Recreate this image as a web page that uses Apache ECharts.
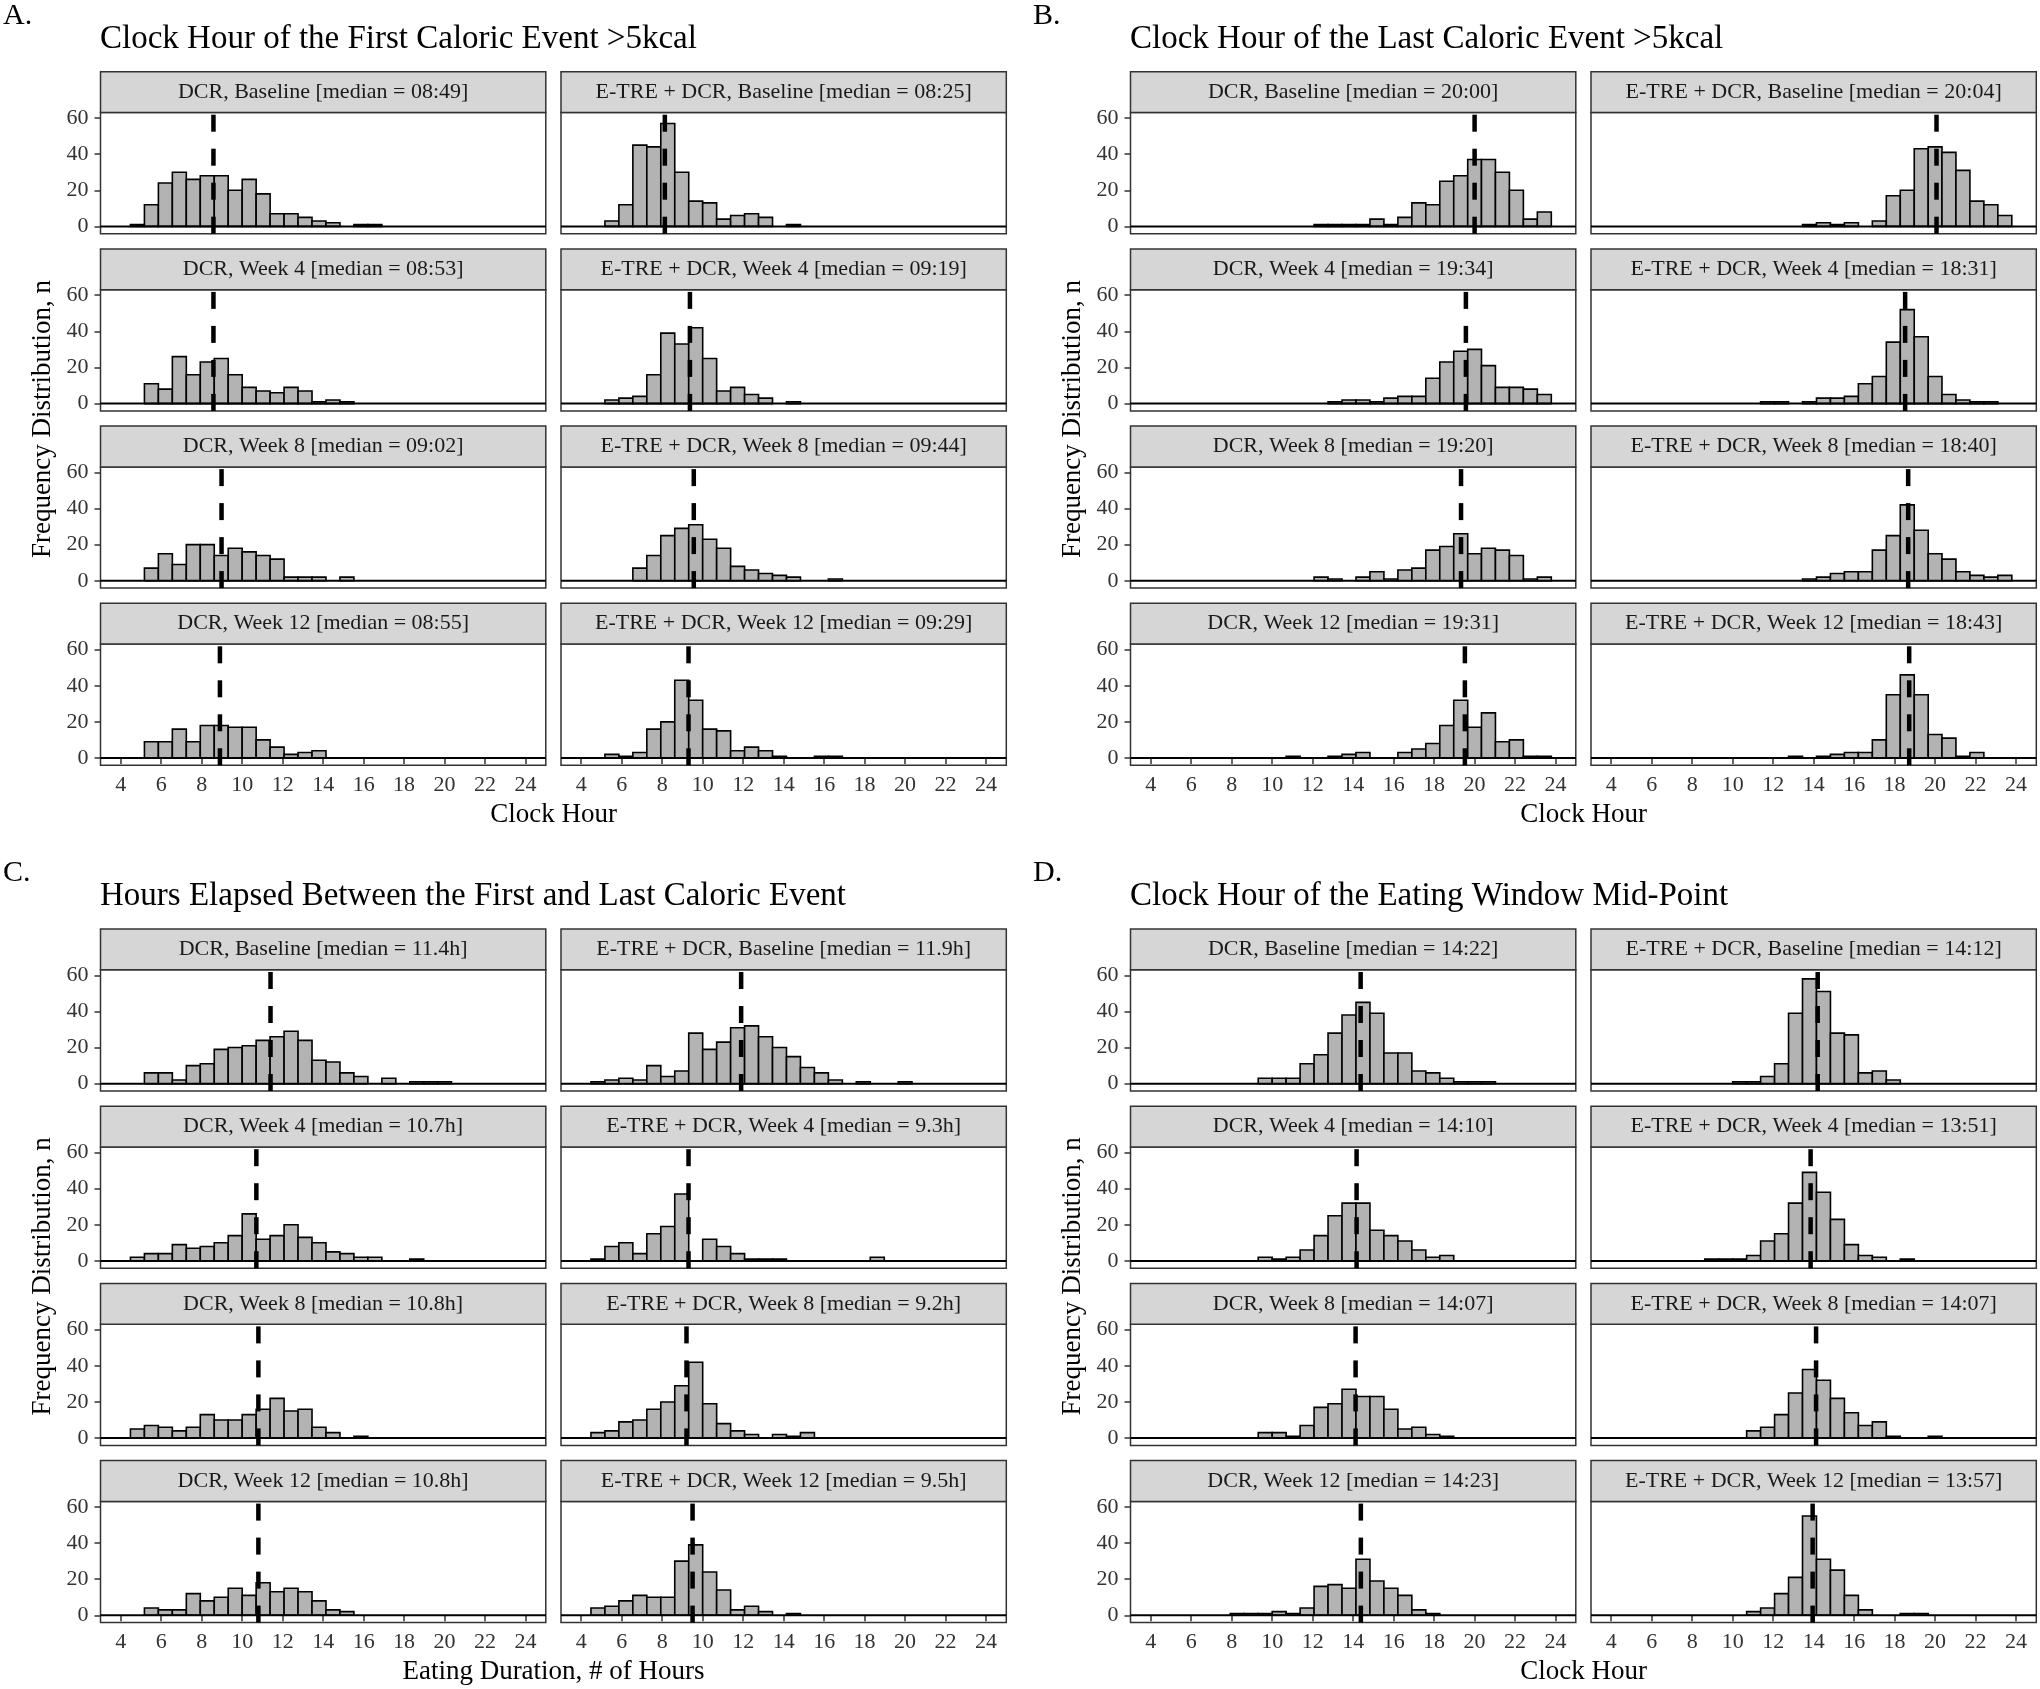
<!DOCTYPE html>
<html><head><meta charset="utf-8">
<script src="https://cdn.jsdelivr.net/npm/echarts@6/dist/echarts.min.js"></script>
<style>html,body{margin:0;padding:0;background:#fff}#c{width:2040px;height:1689px}</style>
</head><body><div id="c"></div>
<script>
// ---------- shared scales ----------
const binEdges = [3.79, 4.48, 5.17, 5.86, 6.55, 7.24, 7.93, 8.62, 9.31, 10.00, 10.69, 11.38, 12.07, 12.76, 13.45, 14.14, 14.83, 15.52, 16.21, 16.90, 17.59, 18.28, 18.97, 19.66, 20.34, 21.03, 21.72, 22.41, 23.10, 23.79, 24.48];
const xTicks = [4, 6, 8, 10, 12, 14, 16, 18, 20, 22, 24];
const yTicks = [0, 20, 40, 60];
const timepoints = ['Baseline', 'Week 4', 'Week 8', 'Week 12'];
const groups = ['DCR', 'E-TRE + DCR'];
const yTitle = 'Frequency Distribution, n';

// ---------- Panel A ----------
const titleA = 'Clock Hour of the First Caloric Event >5kcal';
const xTitleA = 'Clock Hour';
const medTextA_DCR = ['08:49', '08:53', '09:02', '08:55'];
const medTextA_ETRE = ['08:25', '09:19', '09:44', '09:29'];
const medPosA_DCR = [8.58, 8.58, 8.98, 8.90];
const medPosA_ETRE = [8.13, 9.37, 9.56, 9.30];
const A_DCR_BL  = [0,1,12,24,30,26,28,28,20,26,18,7,7,5,3,2,0,1,1,0,0,0,0,0,0,0,0,0,0,0];
const A_DCR_W4  = [0,0,11,8,26,16,23,25,16,9,7,6,9,7,1,2,1,0,0,0,0,0,0,0,0,0,0,0,0,0];
const A_DCR_W8  = [0,0,7,15,9,20,20,14,18,16,14,12,2,2,2,0,2,0,0,0,0,0,0,0,0,0,0,0,0,0];
const A_DCR_W12 = [0,0,9,9,16,9,18,18,17,17,10,6,2,3,4,0,0,0,0,0,0,0,0,0,0,0,0,0,0,0];
const A_ETRE_BL  = [0,0,3,12,45,44,57,30,14,13,4,6,7,5,0,1,0,0,0,0,0,0,0,0,0,0,0,0,0,0];
const A_ETRE_W4  = [0,0,2,3,4,16,39,33,42,25,7,9,5,3,0,1,0,0,0,0,0,0,0,0,0,0,0,0,0,0];
const A_ETRE_W8  = [0,0,0,0,7,14,25,29,31,23,18,8,6,4,3,2,0,0,1,0,0,0,0,0,0,0,0,0,0,0];
const A_ETRE_W12 = [0,0,2,1,3,16,20,43,32,16,15,4,6,4,1,0,0,1,1,0,0,0,0,0,0,0,0,0,0,0];

// ---------- Panel B ----------
const titleB = 'Clock Hour of the Last Caloric Event >5kcal';
const xTitleB = 'Clock Hour';
const medTextB_DCR = ['20:00', '19:34', '19:20', '19:31'];
const medTextB_ETRE = ['20:04', '18:31', '18:40', '18:43'];
const medPosB_DCR = [20.00, 19.57, 19.33, 19.52];
const medPosB_ETRE = [20.07, 18.52, 18.67, 18.72];
const B_DCR_BL  = [0,0,0,0,0,0,0,0,0,0,0,0,1,1,1,1,4,1,5,13,12,25,28,37,37,30,20,4,8,0];
const B_DCR_W4  = [0,0,0,0,0,0,0,0,0,0,0,0,0,1,2,2,1,3,4,4,14,23,29,30,21,9,9,8,5,0];
const B_DCR_W8  = [0,0,0,0,0,0,0,0,0,0,0,0,2,1,0,2,5,1,6,7,17,19,26,15,18,17,14,1,2,0];
const B_DCR_W12 = [0,0,0,0,0,0,0,0,0,0,1,0,0,1,2,3,0,0,3,5,8,18,32,17,25,9,10,1,1,0];
const B_ETRE_BL  = [0,0,0,0,0,0,0,0,0,0,0,0,0,0,1,2,1,2,0,3,17,20,43,44,41,31,14,12,6,0];
const B_ETRE_W4  = [0,0,0,0,0,0,0,0,0,0,0,1,1,0,1,3,3,4,11,15,34,52,37,15,5,2,1,1,0,0];
const B_ETRE_W8  = [0,0,0,0,0,0,0,0,0,0,0,0,0,0,1,2,4,5,5,17,25,42,28,15,12,5,3,2,3,0];
const B_ETRE_W12 = [0,0,0,0,0,0,0,0,0,0,0,0,0,1,0,1,2,3,3,10,35,46,35,13,11,1,3,0,0,0];

// ---------- Panel C ----------
const titleC = 'Hours Elapsed Between the First and Last Caloric Event';
const xTitleC = 'Eating Duration, # of Hours';
const medTextC_DCR = ['11.4h', '10.7h', '10.8h', '10.8h'];
const medTextC_ETRE = ['11.9h', '9.3h', '9.2h', '9.5h'];
const medPosC_DCR = [11.4, 10.7, 10.8, 10.8];
const medPosC_ETRE = [11.9, 9.3, 9.2, 9.5];
const C_DCR_BL  = [0,0,6,6,2,10,11,19,20,21,24,26,29,24,13,12,6,4,0,3,0,1,1,1,0,0,0,0,0,0];
const C_DCR_W4  = [0,2,4,4,9,7,8,10,14,26,12,14,20,13,10,5,4,2,2,0,0,1,0,0,0,0,0,0,0,0];
const C_DCR_W8  = [0,5,7,6,4,6,13,10,10,13,16,22,15,16,6,3,0,1,0,0,0,0,0,0,0,0,0,0,0,0];
const C_DCR_W12 = [0,0,4,3,3,12,8,10,15,11,18,13,15,13,8,3,2,0,0,0,0,0,0,0,0,0,0,0,0,0];
const C_ETRE_BL  = [0,1,2,3,2,10,4,7,28,19,23,31,32,26,20,15,9,6,2,0,1,0,0,1,0,0,0,0,0,0];
const C_ETRE_W4  = [0,1,8,10,4,15,19,37,0,12,8,4,1,1,1,0,0,0,0,0,0,2,0,0,0,0,0,0,0,0];
const C_ETRE_W8  = [0,3,4,9,10,16,20,29,42,19,8,4,2,0,2,1,3,0,0,0,0,0,0,0,0,0,0,0,0,0];
const C_ETRE_W12 = [0,4,5,8,11,10,10,30,39,24,14,3,5,2,0,1,0,0,0,0,0,0,0,0,0,0,0,0,0,0];

// ---------- Panel D ----------
const titleD = 'Clock Hour of the Eating Window Mid-Point';
const xTitleD = 'Clock Hour';
const medTextD_DCR = ['14:22', '14:10', '14:07', '14:23'];
const medTextD_ETRE = ['14:12', '13:51', '14:07', '13:57'];
const medPosD_DCR = [14.37, 14.17, 14.12, 14.38];
const medPosD_ETRE = [14.20, 13.85, 14.12, 13.95];
const D_DCR_BL  = [0,0,0,0,0,0,0,0,3,3,3,11,16,28,38,45,39,17,17,7,6,3,1,1,1,0,0,0,0,0];
const D_DCR_W4  = [0,0,0,0,0,0,0,0,2,1,2,6,14,25,32,32,17,14,11,6,2,3,0,0,0,0,0,0,0,0];
const D_DCR_W8  = [0,0,0,0,0,0,0,0,3,3,1,7,17,19,27,23,23,16,5,6,2,1,0,0,0,0,0,0,0,0];
const D_DCR_W12 = [0,0,0,0,0,0,1,1,1,2,1,4,16,17,15,31,19,15,11,3,1,0,0,0,0,0,0,0,0,0];
const D_ETRE_BL  = [0,0,0,0,0,0,0,0,0,1,1,4,11,39,58,51,28,27,6,7,2,0,0,0,0,0,0,0,0,0];
const D_ETRE_W4  = [0,0,0,0,0,0,0,1,1,1,3,11,15,32,49,38,23,9,3,2,0,1,0,0,0,0,0,0,0,0];
const D_ETRE_W8  = [0,0,0,0,0,0,0,0,0,0,4,6,13,25,38,32,22,14,7,9,1,0,0,1,0,0,0,0,0,0];
const D_ETRE_W12 = [0,0,0,0,0,0,0,0,0,0,2,4,12,21,55,31,25,11,3,0,0,1,1,0,0,0,0,0,0,0];

// ---------- assembly ----------
const panels = [
  {letter: 'A.', title: titleA, xTitle: xTitleA, ox: 0, oy: 0,
   hist: [[A_DCR_BL, A_DCR_W4, A_DCR_W8, A_DCR_W12], [A_ETRE_BL, A_ETRE_W4, A_ETRE_W8, A_ETRE_W12]],
   medText: [medTextA_DCR, medTextA_ETRE], medPos: [medPosA_DCR, medPosA_ETRE]},
  {letter: 'B.', title: titleB, xTitle: xTitleB, ox: 1030, oy: 0,
   hist: [[B_DCR_BL, B_DCR_W4, B_DCR_W8, B_DCR_W12], [B_ETRE_BL, B_ETRE_W4, B_ETRE_W8, B_ETRE_W12]],
   medText: [medTextB_DCR, medTextB_ETRE], medPos: [medPosB_DCR, medPosB_ETRE]},
  {letter: 'C.', title: titleC, xTitle: xTitleC, ox: 0, oy: 857.3,
   hist: [[C_DCR_BL, C_DCR_W4, C_DCR_W8, C_DCR_W12], [C_ETRE_BL, C_ETRE_W4, C_ETRE_W8, C_ETRE_W12]],
   medText: [medTextC_DCR, medTextC_ETRE], medPos: [medPosC_DCR, medPosC_ETRE]},
  {letter: 'D.', title: titleD, xTitle: xTitleD, ox: 1030, oy: 857.3,
   hist: [[D_DCR_BL, D_DCR_W4, D_DCR_W8, D_DCR_W12], [D_ETRE_BL, D_ETRE_W4, D_ETRE_W8, D_ETRE_W12]],
   medText: [medTextD_DCR, medTextD_ETRE], medPos: [medPosD_DCR, medPosD_ETRE]}
];

const FONT = '"Liberation Serif", "Times New Roman", serif';
const X_MIN = 3, X_MAX = 25, Y_MIN = -4.05, Y_MAX = 63.05;
const COL_LEFT = [100.5, 561], COL_W = 445.3;
const ROW_STEP = 177.2, STRIP_TOP = 71.7, PANEL_TOP = 112.5, PANEL_H = 121.2;

const grids = [], xAxes = [], yAxes = [], series = [], graphics = [];

function txt(x, y, text, size, opts) {
  opts = opts || {};
  const el = {
    type: 'text', x: x, y: y, rotation: opts.rotation || 0, silent: true, z: 10,
    style: {
      text: text, font: size + 'px ' + FONT, fontSize: size, fontFamily: FONT,
      fill: opts.fill || '#000',
      align: opts.align || 'left', textAlign: opts.align || 'left',
      verticalAlign: 'middle', textVerticalAlign: 'middle'
    }
  };
  graphics.push(el);
}

function renderBar(params, api) {
  const x0 = api.value(0), x1 = api.value(1), n = api.value(2);
  const p0 = api.coord([x0, 0]);
  const p1 = api.coord([x1, n]);
  return {
    type: 'rect',
    shape: {x: p0[0], y: p1[1], width: p1[0] - p0[0], height: p0[1] - p1[1]},
    style: {fill: '#b3b3b3', stroke: '#000', lineWidth: 1.6}
  };
}

let gi = 0;
panels.forEach(function (p) {
  txt(p.ox + 3, p.oy + 16, p.letter, 30);
  txt(p.ox + 100, p.oy + 39.5, p.title, 33);
  txt(p.ox + 553.5, p.oy + 815, p.xTitle, 27, {align: 'center'});
  txt(p.ox + 43, p.oy + 419, yTitle, 27, {align: 'center', rotation: Math.PI / 2});
  for (let c = 0; c < 2; c++) {
    for (let r = 0; r < 4; r++) {
      const left = p.ox + COL_LEFT[c];
      const sTop = p.oy + STRIP_TOP + r * ROW_STEP;
      const pTop = p.oy + PANEL_TOP + r * ROW_STEP;
      // strip
      graphics.push({type: 'rect', silent: true, z: 5,
        shape: {x: left, y: sTop, width: COL_W, height: pTop - sTop},
        style: {fill: '#d6d6d6', stroke: '#333', lineWidth: 1.5}});
      txt(left + COL_W / 2, (sTop + pTop) / 2,
        groups[c] + ', ' + timepoints[r] + ' [median = ' + p.medText[c][r] + ']', 22,
        {align: 'center', fill: '#1a1a1a'});

      grids.push({left: left, top: pTop, width: COL_W, height: PANEL_H, show: true,
        backgroundColor: '#fff', borderColor: '#333', borderWidth: 1.5, outerBoundsMode: 'none', containLabel: false});
      xAxes.push({gridIndex: gi, type: 'value', min: X_MIN, max: X_MAX,
        axisLine: {show: false}, splitLine: {show: false},
        axisTick: {show: r === 3, customValues: xTicks, length: 6, lineStyle: {color: '#333', width: 1.5}},
        axisLabel: {show: r === 3, customValues: xTicks, margin: 9, fontFamily: FONT, fontSize: 22, color: '#333'}});
      yAxes.push({gridIndex: gi, type: 'value', min: Y_MIN, max: Y_MAX,
        axisLine: {show: false}, splitLine: {show: false},
        axisTick: {show: c === 0, customValues: yTicks, length: 6, lineStyle: {color: '#333', width: 1.5}},
        axisLabel: {show: c === 0, customValues: yTicks, margin: 12, fontFamily: FONT, fontSize: 22, color: '#333'}});

      const counts = p.hist[c][r];
      const bars = [];
      counts.forEach(function (n, i) { if (n > 0) bars.push([binEdges[i], binEdges[i + 1], n]); });
      series.push({type: 'custom', xAxisIndex: gi, yAxisIndex: gi, renderItem: renderBar,
        data: bars, z: 2, silent: true, encode: {x: [0, 1], y: 2}});
      series.push({type: 'line', xAxisIndex: gi, yAxisIndex: gi, data: [[X_MIN, 0], [X_MAX, 0]],
        symbol: 'none', silent: true, z: 3, lineStyle: {color: '#000', width: 2}});
      const m = p.medPos[c][r];
      series.push({type: 'line', xAxisIndex: gi, yAxisIndex: gi, data: [[m, Y_MIN], [m, Y_MAX]],
        symbol: 'none', silent: true, z: 4, lineStyle: {color: '#000', width: 4.5, type: [17, 17], cap: 'butt'}});
      gi++;
    }
  }
});

const chart = echarts.init(document.getElementById('c'), null, {renderer: 'canvas'});
chart.setOption({
  animation: false,
  backgroundColor: '#fff',
  grid: grids, xAxis: xAxes, yAxis: yAxes, series: series,
  graphic: {elements: graphics}
});
</script>
</body></html>
